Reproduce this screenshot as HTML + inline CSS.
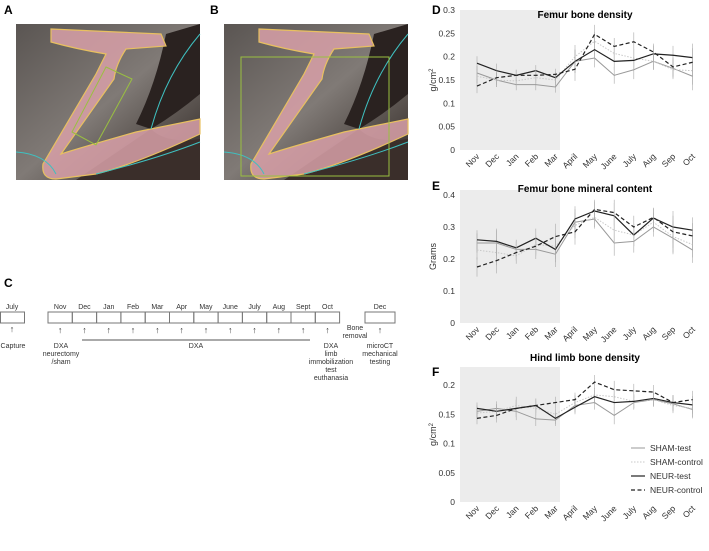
<!DOCTYPE html>
<html><head><meta charset="utf-8"><style>
body{margin:0;background:#fff;}
svg{display:block;font-family:"Liberation Sans",Arial,sans-serif;}
</style></head><body>
<svg width="709" height="551" viewBox="0 0 709 551">
<defs>
<linearGradient id="bg" x1="0" y1="0" x2="1" y2="1">
<stop offset="0" stop-color="#5a5552"/><stop offset="0.5" stop-color="#807a76"/><stop offset="1" stop-color="#2e2622"/>
</linearGradient>
<g id="bone">
<rect x="0" y="0" width="184" height="156" fill="url(#bg)"/>
<path d="M150,10 L184,0 L184,70 Q160,90 135,105 L120,100 Q140,60 150,10Z" fill="#2a2220"/>
<path d="M135,105 Q150,120 184,115 L184,156 L60,156 Z" fill="#3a2e2a"/>
<path d="M35,5 L145,10 L150,22 L110,25 Q100,40 98,55 L45,130 Q60,125 120,108 L184,95 L184,110 Q120,140 80,150 L40,155 Q25,155 27,140 L80,50 L90,30 Q60,25 35,18Z" fill="#d8a0a8" fill-opacity="0.85" stroke="#e8c060" stroke-width="1.2"/>
<path d="M0,128 Q30,130 40,150" fill="none" stroke="#3fc0c0" stroke-width="1"/>
<path d="M184,10 Q150,50 135,105" fill="none" stroke="#3fc0c0" stroke-width="1"/>
<path d="M80,150 Q140,135 184,118" fill="none" stroke="#3fc0c0" stroke-width="1"/>
</g>
</defs>
<text x="4" y="14" font-size="12" font-weight="bold">A</text>
<text x="210" y="14" font-size="12" font-weight="bold">B</text>
<text x="4" y="287" font-size="12" font-weight="bold">C</text>
<text x="432" y="14" font-size="12" font-weight="bold">D</text>
<text x="432" y="190" font-size="12" font-weight="bold">E</text>
<text x="432" y="376" font-size="12" font-weight="bold">F</text>

<g transform="translate(16,24)">
<use href="#bone"/>
<polygon points="90,43 116,55 80,121 56,108" fill="none" stroke="#9ac040" stroke-width="1"/>
</g>
<g transform="translate(224,24)">
<use href="#bone"/>
<rect x="17" y="33" width="148" height="119" fill="none" stroke="#9ac040" stroke-width="1"/>
</g>

<g id="timeline" font-size="7" fill="#333" text-anchor="middle"></g>
<g id="charts"></g>
</svg>
<script>
const NS="http://www.w3.org/2000/svg";
function mk(tag,attrs,parent,txt){const e=document.createElementNS(NS,tag);for(const k in attrs)e.setAttribute(k,attrs[k]);if(txt!==undefined)e.textContent=txt;parent.appendChild(e);return e;}

// Timeline
const tl=document.getElementById('timeline');
const tlMonths=["Nov","Dec","Jan","Feb","Mar","Apr","May","June","July","Aug","Sept","Oct"];
let r=mk('rect',{x:0.5,y:312,width:24,height:11,fill:'none',stroke:'#777'},tl);

mk('text',{x:12,y:309},tl,"July");
mk('text',{x:12,y:332,'font-size':9},tl,"↑");
mk('text',{x:13,y:348},tl,"Capture");
const t0=48,cw=24.3;
tlMonths.forEach((m,i)=>{
 const c=mk('rect',{x:t0+i*cw,y:312,width:cw,height:11,fill:'none',stroke:'#777'},tl);
 
 
 mk('text',{x:t0+i*cw+cw/2,y:309},tl,m);
 mk('text',{x:t0+i*cw+cw/2,y:333,'font-size':9},tl,"↑");
});
mk('line',{x1:82,y1:340,x2:310,y2:340,stroke:'#555'},tl);
mk('text',{x:196,y:348},tl,"DXA");
[["DXA",348],["neurectomy",356],["/sham",364]].forEach(a=>mk('text',{x:61,y:a[1]},tl,a[0]));
[["DXA",348],["limb",356],["immobilization",364],["test",372],["euthanasia",380]].forEach(a=>mk('text',{x:331,y:a[1]},tl,a[0]));
let r2=mk('rect',{x:365,y:312,width:30,height:11,fill:'none',stroke:'#777'},tl);

mk('text',{x:380,y:309},tl,"Dec");
mk('text',{x:380,y:333,'font-size':9},tl,"↑");
mk('text',{x:355,y:330},tl,"Bone");
mk('text',{x:355,y:338},tl,"removal");
[["microCT",348],["mechanical",356],["testing",364]].forEach(a=>mk('text',{x:380,y:a[1]},tl,a[0]));

// Chart data
const months=["Nov","Dec","Jan","Feb","Mar","April","May","June","July","Aug","Sep","Oct"];
const seriesNames=["SHAM-test","SHAM-control","NEUR-test","NEUR-control"];
const dShamTest=[.165,.15,.14,.14,.135,.19,.197,.16,.172,.19,.175,.158];
const dShamCtrl=[.158,.15,.148,.155,.15,.2,.233,.207,.197,.19,.172,.17];
const dNeurTest=[.186,.17,.16,.17,.155,.19,.215,.19,.192,.206,.203,.198];
const dNeurCtrl=[.137,.155,.16,.16,.162,.173,.248,.222,.232,.21,.178,.188];
const dTicks=[0,0.05,0.1,0.15,0.2,0.25,0.3];
const eShamTest=[.25,.25,.23,.23,.215,.315,.325,.25,.255,.3,.265,.228];
const eShamCtrl=[.228,.22,.21,.245,.24,.305,.33,.29,.275,.315,.27,.245];
const eNeurTest=[.26,.255,.235,.265,.23,.325,.35,.335,.275,.328,.3,.29];
const eNeurCtrl=[.175,.195,.22,.24,.27,.285,.355,.345,.3,.33,.285,.272];
const eTicks=[0,0.1,0.2,0.3,0.4];
const fShamTest=[.155,.16,.155,.142,.14,.165,.17,.148,.17,.175,.168,.158];
const fShamCtrl=[.152,.155,.165,.16,.15,.17,.183,.18,.172,.175,.165,.16];
const fNeurTest=[.16,.155,.16,.165,.143,.162,.18,.17,.172,.177,.17,.166];
const fNeurCtrl=[.143,.148,.16,.165,.17,.175,.205,.192,.19,.188,.17,.175];
const fTicks=[0,0.05,0.1,0.15,0.2];
const errD=[.015,.015,.012,.012,.012,.025,.02,.018,.02,.018,.02,.03];
const errE=[.03,.04,.025,.03,.04,.04,.03,.04,.035,.03,.05,.04];
const errF=[.01,.012,.015,.012,.01,.012,.012,.015,.012,.012,.013,.015];

const styles=[{c:'#999',w:1,d:''},{c:'#c8c8c8',w:1,d:'1.5,1.5'},{c:'#222',w:1.2,d:''},{c:'#222',w:1.2,d:'4,2.5'}];
const charts=document.getElementById('charts');
const px0=460,px1=705,xFirst=477,xStep=19.6;
function xs(i){return xFirst+i*xStep;}

function chart(name,title,titleY,yLabel,top,bottom,vmax,ymaxPix,ticks,tickFmt,series,err,legend){
 const g=mk('g',{},charts);
 
 
 const ys=v=>bottom-(v/vmax)*(bottom-ymaxPix);
 const sh=mk('rect',{x:px0,y:top,width:100,height:bottom-top,fill:'#ececec'},g);
 
 
 const t=mk('text',{x:585,y:titleY,'font-size':10,'font-weight':'bold','text-anchor':'middle'},g,title);
 
 
 ticks.forEach(v=>{
  const tt=mk('text',{x:455,y:ys(v)+3,'font-size':8.5,'text-anchor':'end',fill:'#333'},g,tickFmt(v));
  
  
 });
 months.forEach((m,i)=>{
  const x=xs(i)+3,y=bottom+7;
  const tt=mk('text',{x:x,y:y,'font-size':8.5,'text-anchor':'end',fill:'#333',transform:`rotate(-45 ${x} ${y})`},g,m);
  
  
 });
 const midY=(top+bottom)/2;
 const yl=mk('text',{x:436,y:midY,'font-size':9,'text-anchor':'middle',fill:'#333',transform:`rotate(-90 436 ${midY})`},g);
 
 
 if(yLabel==='g/cm2'){yl.textContent='g/cm';const s=mk('tspan',{dy:-3,'font-size':6},yl,'2');}else yl.textContent=yLabel;
 series.forEach((vals,si)=>{
  const st=styles[si];
  vals.forEach((v,i)=>{
   const eb=mk('line',{x1:xs(i),x2:xs(i),y1:ys(v-err[i]),y2:ys(v+err[i]),stroke:'#aaa','stroke-width':0.6},g);
   
   
  });
  const p=mk('polyline',{points:vals.map((v,i)=>xs(i)+','+ys(v)).join(' '),fill:'none',stroke:st.c,'stroke-width':st.w,'stroke-dasharray':st.d},g);
  
  
 });
 if(legend){
  seriesNames.forEach((n,i)=>{
   const st=styles[i],y=448+i*14;
   const lg=mk('g',{},g);
   
   
   mk('line',{x1:631,x2:645,y1:y,y2:y,stroke:st.c,'stroke-width':st.w,'stroke-dasharray':st.d},lg);
   mk('text',{x:650,y:y+3,'font-size':8.5,fill:'#333'},lg,n);
  });
 }
}
const f2=v=>v===0?'0':String(v);
chart('chart-femur-density','Femur bone density',18,'g/cm2',10,150,0.3,10,dTicks,f2,[dShamTest,dShamCtrl,dNeurTest,dNeurCtrl],errD,false);
chart('chart-femur-mineral','Femur bone mineral content',192,'Grams',190,323,0.4,195,eTicks,f2,[eShamTest,eShamCtrl,eNeurTest,eNeurCtrl],errE,false);
chart('chart-hindlimb-density','Hind limb bone density',361,'g/cm2',367,502,0.2,385,fTicks,f2,[fShamTest,fShamCtrl,fNeurTest,fNeurCtrl],errF,true);
</script>
</body></html>
